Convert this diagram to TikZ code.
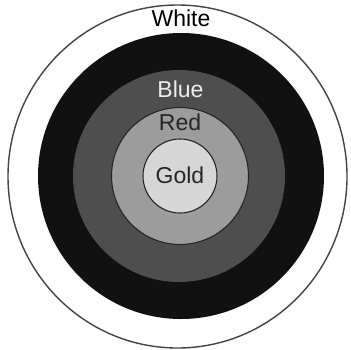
\documentclass[tikz,border=0pt]{standalone}
\usepackage{fontspec}
\setmainfont{Liberation Sans}
\definecolor{ringblack}{HTML}{111111}
\definecolor{ringblue}{HTML}{4E4E4E}
\definecolor{ringred}{HTML}{9C9C9C}
\definecolor{ringgold}{HTML}{D6D6D6}
\definecolor{outline}{HTML}{444444}
\tikzset{
  lbl/.style={font=\fontsize{23}{27}\selectfont, inner sep=0pt, anchor=base},
  ringline/.style={draw=black!85, line width=1.1pt}
}
\begin{document}
\begin{tikzpicture}[x=1pt,y=-1pt]
\useasboundingbox (0,0) rectangle (351,349);
\fill[white] (0,0) rectangle (351,349);
% outer white disk
\draw[outline, line width=1.4pt, fill=white] (177.5,176.5) ellipse[x radius=169.5, y radius=171.5];
% black ring
\fill[ringblack] (181,176) circle[radius=143];
% blue ring
\fill[ringblue] (179,176) circle[radius=106];
% red ring
\filldraw[fill=ringred, ringline] (180,176) circle[radius=68.5];
% gold disk
\filldraw[fill=ringgold, ringline] (180,176) circle[radius=37];
% labels
\node[lbl, text=black] (white) at (181,26) {White};
\node[lbl, text=white!93!black] (blue) at (180.5,97) {Blue};
\node[lbl, text=black!85] (red) at (180,130) {Red};
\node[lbl, text=black!85] (gold) at (180,183) {Gold};
\end{tikzpicture}
\end{document}
